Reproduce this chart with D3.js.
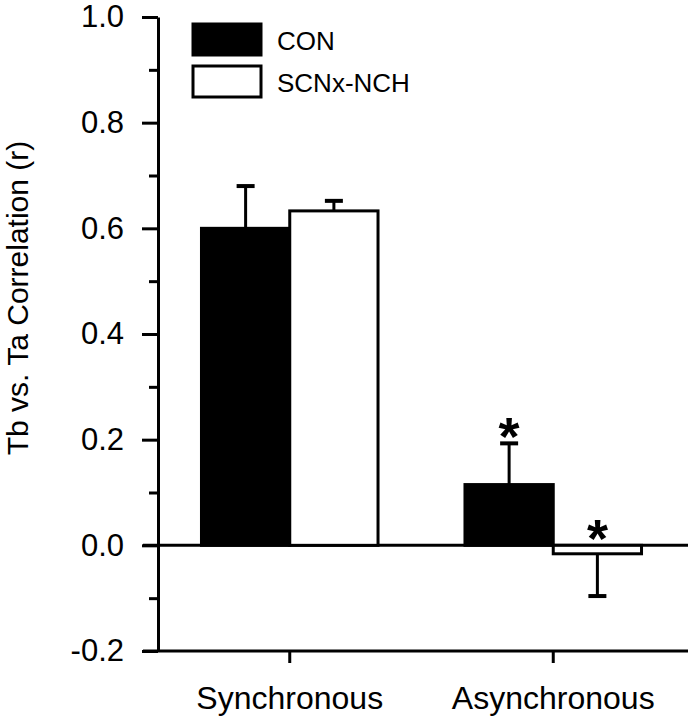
<!DOCTYPE html>
<html>
<head>
<meta charset="utf-8">
<script src="https://cdn.jsdelivr.net/npm/d3@7"></script>
<style>
  body { margin: 0; background: #fff; }
  text { font-family: "Liberation Sans", Arial, Helvetica, sans-serif; fill: #000; }
</style>
</head>
<body>
<div class="chart-div"></div>
<script>
var categories = ["Synchronous", "Asynchronous"];
var seriesNames = ["CON", "SCNx-NCH"];
var conValues = [0.60, 0.115];
var conErrors = [0.08, 0.078];
var scnValues = [0.633, -0.016];
var scnErrors = [0.019, 0.08];
var significant = [[false, true], [false, true]];
var yTicks = [-0.2, 0.0, 0.2, 0.4, 0.6, 0.8, 1.0];
var yMinorTicks = [-0.1, 0.1, 0.3, 0.5, 0.7, 0.9];

var width = 690;
var height = 719;

var svg = d3.select(".chart-div")
    .append("svg")
        .attr("width", width)
        .attr("height", height);

//scales
var y = d3.scaleLinear().domain([-0.2, 1.0]).range([651, 17]);
var x = d3.scaleBand().domain(categories).range([158, 685])
    .paddingInner(0.33).paddingOuter(0.165);
var xSeries = d3.scaleBand().domain(seriesNames).range([0, x.bandwidth()]);

var rows = [];
categories.forEach(function(c, i) {
    rows.push({cat: c, series: "CON", value: conValues[i], err: conErrors[i], star: significant[0][i], fill: "#000"});
    rows.push({cat: c, series: "SCNx-NCH", value: scnValues[i], err: scnErrors[i], star: significant[1][i], fill: "#fff"});
});

//zero line
svg.append("line")
    .attr("x1", 143).attr("x2", 688)
    .attr("y1", y(0)).attr("y2", y(0))
    .attr("stroke", "#000").attr("stroke-width", 3);

//bars
svg.selectAll("rect.bar")
    .data(rows)
    .enter().append("rect")
        .attr("class", "bar")
        .attr("x", function(d) { return x(d.cat) + xSeries(d.series); })
        .attr("y", function(d) { return y(Math.max(0, d.value)); })
        .attr("width", xSeries.bandwidth())
        .attr("height", function(d) { return Math.abs(y(d.value) - y(0)); })
        .attr("fill", function(d) { return d.fill; })
        .attr("stroke", "#000")
        .attr("stroke-width", 3);

//error bars (one-sided, away from zero)
var errG = svg.selectAll("g.err")
    .data(rows)
    .enter().append("g")
        .attr("class", "err")
        .attr("transform", function(d) {
            return "translate(" + (x(d.cat) + xSeries(d.series) + xSeries.bandwidth() / 2) + ",0)";
        });
errG.append("line")
    .attr("x1", 0).attr("x2", 0)
    .attr("y1", function(d) { return y(d.value); })
    .attr("y2", function(d) { return y(d.value >= 0 ? d.value + d.err : d.value - d.err); })
    .attr("stroke", "#000").attr("stroke-width", 3);
errG.append("line")
    .attr("x1", -9).attr("x2", 9)
    .attr("y1", function(d) { return y(d.value >= 0 ? d.value + d.err : d.value - d.err); })
    .attr("y2", function(d) { return y(d.value >= 0 ? d.value + d.err : d.value - d.err); })
    .attr("stroke", "#000").attr("stroke-width", 4);

//asterisks
errG.filter(function(d) { return d.star; })
    .append("text")
        .attr("x", 0)
        .attr("y", function(d) {
            var top = d.value >= 0 ? d.value + d.err : 0;
            return y(top) - 18 + 30;
        })
        .attr("text-anchor", "middle")
        .attr("font-size", "54px")
        .attr("font-weight", "bold")
        .text("*");

//y axis
var yAxis = svg.append("g")
    .attr("transform", "translate(158,0)")
    .call(d3.axisLeft(y).tickValues(yTicks).tickSize(16).tickSizeOuter(0).tickPadding(18)
        .tickFormat(function(d) { return d.toFixed(1); }));
yAxis.selectAll("text")
    .attr("font-size", "31px")
    .attr("font-family", "Liberation Sans, Arial, sans-serif")
    .attr("fill", "#000");
var yMinor = svg.append("g")
    .attr("transform", "translate(158,0)")
    .call(d3.axisLeft(y).tickValues(yMinorTicks).tickSize(9).tickSizeOuter(0).tickFormat(""));
yMinor.select(".domain").remove();
svg.selectAll(".tick line").attr("stroke", "#000").attr("stroke-width", 3);
yAxis.select(".domain").attr("stroke", "#000").attr("stroke-width", 3);

//x axis at bottom
var xAxis = svg.append("g")
    .attr("transform", "translate(0," + y(-0.2) + ")")
    .call(d3.axisBottom(x).tickSize(12).tickSizeOuter(0).tickPadding(23));
xAxis.select(".domain").remove();
xAxis.selectAll(".tick line").attr("stroke", "#000").attr("stroke-width", 3);
xAxis.selectAll("text")
    .attr("font-size", "32px")
    .attr("font-family", "Liberation Sans, Arial, sans-serif")
    .attr("fill", "#000");
svg.append("line")
    .attr("x1", 143).attr("x2", 688)
    .attr("y1", y(-0.2)).attr("y2", y(-0.2))
    .attr("stroke", "#000").attr("stroke-width", 3);

//y axis title
svg.append("text")
    .attr("transform", "translate(28," + 298 + ") rotate(-90)")
    .attr("text-anchor", "middle")
    .attr("font-size", "30px")
    .text("Tb vs. Ta Correlation (r)");

//legend
var legend = svg.selectAll("g.legend")
    .data(seriesNames)
    .enter().append("g")
        .attr("class", "legend")
        .attr("transform", function(d, i) { return "translate(193," + (24 + i * 42) + ")"; });
legend.append("rect")
    .attr("width", 68)
    .attr("height", 31)
    .attr("fill", function(d, i) { return i === 0 ? "#000" : "#fff"; })
    .attr("stroke", "#000")
    .attr("stroke-width", 3);
legend.append("text")
    .attr("x", 84)
    .attr("y", 26)
    .attr("font-size", "26px")
    .text(function(d) { return d; });
</script>
</body>
</html>
